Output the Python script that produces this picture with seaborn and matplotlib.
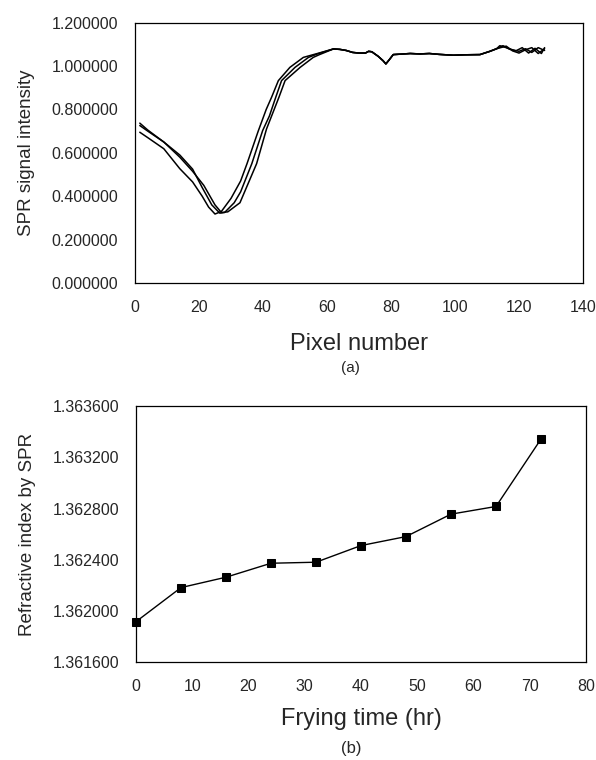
import matplotlib
matplotlib.use("Agg")
import matplotlib.pyplot as plt
import seaborn as sns
import pandas as pd

# (a) SPR curves, three scans (pixel, intensity)
px_a = [1.5, 4, 9, 14, 18, 21, 23, 25, 27, 30, 33, 35, 38.5, 41, 42.7, 44.8, 48.4, 52.6, 57, 62]
sig_a = [0.695, 0.67, 0.619, 0.527, 0.466, 0.40, 0.35, 0.318, 0.33, 0.39, 0.47, 0.55, 0.70, 0.80,
         0.857, 0.933, 0.994, 1.04, 1.058, 1.079]
px_b = [1.5, 4, 9, 14, 18, 21, 24, 26.5, 28, 31, 33, 36.5, 39.9, 42, 44, 45.8, 50, 54.2, 57, 62]
sig_b = [0.726, 0.70, 0.65, 0.59, 0.525, 0.44, 0.36, 0.322, 0.325, 0.37, 0.42, 0.55, 0.703, 0.77,
         0.857, 0.933, 0.994, 1.04, 1.056, 1.079]
px_c = [1.5, 4, 9, 14, 18, 21.5, 25, 27, 29, 32.8, 38, 41.1, 45, 46.9, 51.6, 55.7, 57.5, 62]
sig_c = [0.737, 0.705, 0.65, 0.58, 0.515, 0.45, 0.36, 0.325, 0.328, 0.37, 0.55, 0.71, 0.857,
         0.933, 0.994, 1.04, 1.052, 1.079]

# shared plateau
px_tail = [64, 66, 68, 70, 72, 73, 74, 76, 77.5, 78.4, 79.5, 80.7, 83, 86, 89, 92, 95, 99.5,
           103, 107.8, 110.9, 113]
sig_tail = [1.077, 1.072, 1.063, 1.060, 1.060, 1.068, 1.066, 1.045, 1.025, 1.010, 1.030, 1.053,
            1.055, 1.058, 1.056, 1.058, 1.054, 1.050, 1.052, 1.053, 1.068, 1.080]

# noisy ends
px_end_a = [114, 116, 118, 120, 122, 124, 126, 128]
sig_end_a = [1.094, 1.085, 1.075, 1.068, 1.080, 1.063, 1.085, 1.072]
px_end_b = [115, 117, 119, 121, 123, 125, 127, 128]
sig_end_b = [1.094, 1.078, 1.070, 1.085, 1.060, 1.082, 1.058, 1.085]
px_end_c = [116, 118, 120, 122, 124, 126, 128]
sig_end_c = [1.092, 1.070, 1.060, 1.075, 1.085, 1.058, 1.080]

# (b) refractive index vs frying time
fry_hr = [0, 8, 16, 24, 32, 40, 48, 56, 64, 72]
ri = [1.361917, 1.362183, 1.362264, 1.362373, 1.362381, 1.362511, 1.362581, 1.362756,
      1.362816, 1.363342]

sns.set_style("white")
plt.rcParams['font.family'] = ['Liberation Sans', 'DejaVu Sans']

rows = []
for name, xs, ys in [('a', px_a + px_tail + px_end_a, sig_a + sig_tail + sig_end_a),
                     ('b', px_b + px_tail + px_end_b, sig_b + sig_tail + sig_end_b),
                     ('c', px_c + px_tail + px_end_c, sig_c + sig_tail + sig_end_c)]:
    for x, y in zip(xs, ys):
        rows.append({'scan': name, 'pixel': x, 'signal': y})
df = pd.DataFrame(rows)

fig = plt.figure(figsize=(5.96, 7.6), dpi=100)
ax1 = fig.add_axes([135 / 596, 1 - 283 / 760, 448 / 596, 260.3 / 760])
ax2 = fig.add_axes([136 / 596, 1 - 662.3 / 760, 450 / 596, 256.3 / 760])

sns.lineplot(data=df, x='pixel', y='signal', units='scan', estimator=None, sort=False,
             color='black', linewidth=1.1, ax=ax1)
ax1.set_xlim(0, 140)
ax1.set_ylim(0, 1.2)
ax1.set_xticks(range(0, 141, 20))
ax1.set_yticks([0, 0.2, 0.4, 0.6, 0.8, 1.0, 1.2])
ax1.set_yticklabels([f"{v:.6f}" for v in [0, 0.2, 0.4, 0.6, 0.8, 1.0, 1.2]])
ax1.set_xlabel('Pixel number', fontsize=17, labelpad=13)
ax1.set_ylabel('SPR signal intensity', fontsize=13.5, labelpad=12)

sns.lineplot(x=fry_hr, y=ri, color='black', linewidth=1.0, marker='s', markersize=6,
             markeredgecolor='black', markerfacecolor='black', clip_on=False, ax=ax2)
ax2.set_xlim(0, 80)
ax2.set_ylim(1.3616, 1.3636)
ax2.set_xticks(range(0, 81, 10))
yt = [1.3616, 1.3620, 1.3624, 1.3628, 1.3632, 1.3636]
ax2.set_yticks(yt)
ax2.set_yticklabels([f"{v:.6f}" for v in yt])
ax2.set_xlabel('Frying time (hr)', fontsize=17, labelpad=10)
ax2.set_ylabel('Refractive index by SPR', fontsize=13.5, labelpad=12)

for ax in (ax1, ax2):
    ax.tick_params(axis='both', length=0, labelsize=11.5, pad=12)
    for s in ax.spines.values():
        s.set_color('black')
        s.set_linewidth(0.9)

fig.text(350 / 596, 1 - 368 / 760, '(a)', ha='center', va='center', fontsize=11)
fig.text(351 / 596, 1 - 749 / 760, '(b)', ha='center', va='center', fontsize=12)

fig.savefig('out.png', dpi=100)
